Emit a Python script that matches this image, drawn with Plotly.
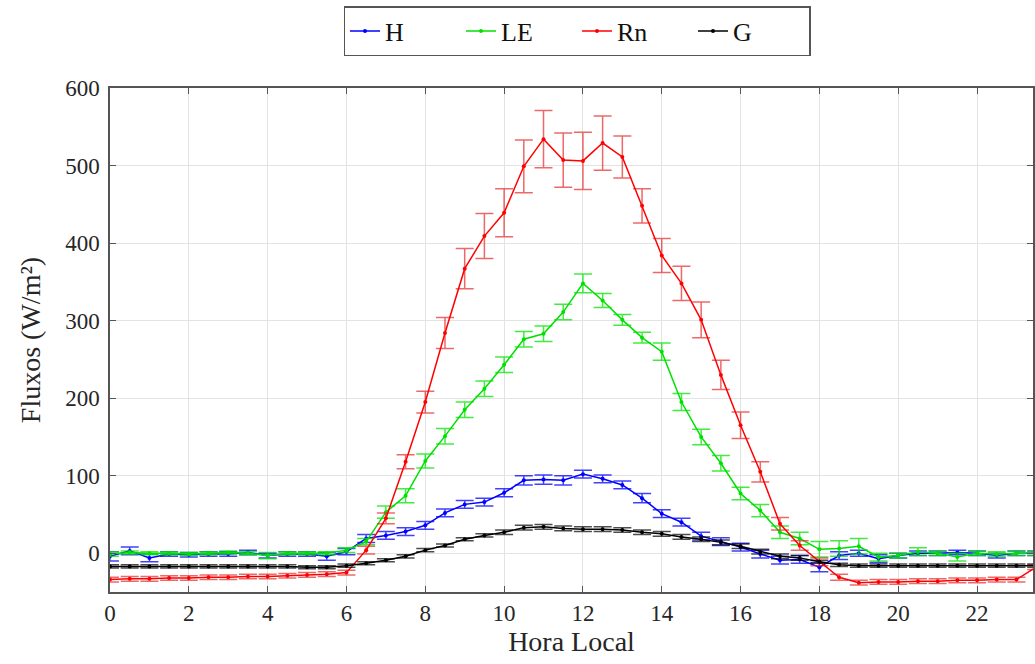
import plotly.graph_objects as go

hours = [i * 0.5 for i in range(48)]

H = [-4, 3, -6, -1, -2, -1, -1, 1, -3, -1, -1, -4,
     2, 19, 23, 28, 36, 52, 63, 66, 78, 94, 95, 94,
     102, 96, 88, 71, 51, 40, 22, 15, 8, -1, -9, -8,
     -18, -3, 0, -7, -3, 0, 0, 1, 0, -3, 0, 0]
H_err = [6, 5, 5, 3, 3, 3, 3, 3, 3, 3, 3, 5,
         4, 5, 5, 5, 5, 5, 5, 5, 5, 6, 6, 6,
         5, 5, 5, 6, 5, 5, 5, 5, 5, 5, 5, 5,
         6, 5, 4, 5, 3, 3, 3, 3, 3, 3, 3, 3]

LE = [-1, 1, 0, 0, -1, 0, 1, 0, -3, 0, 0, 0,
      4, 15, 53, 74, 119, 151, 185, 212, 243, 276, 283, 311,
      348, 326, 301, 278, 260, 195, 150, 116, 77, 55, 27, 19,
      5, 6, 9, -5, -3, 2, 0, -5, 0, -1, 0, 0]
LE_err = [3, 2, 2, 2, 2, 2, 2, 2, 4, 2, 2, 2,
          3, 4, 8, 9, 9, 10, 10, 10, 10, 10, 10, 10,
          12, 9, 7, 7, 11, 11, 10, 10, 8, 8, 8, 8,
          10, 10, 10, 5, 3, 5, 3, 5, 3, 3, 3, 3]

Rn = [-34, -33, -33, -32, -32, -31, -31, -30, -30, -29, -28, -27,
      -25, 4, 45, 118, 195, 284, 367, 409, 439, 499, 534, 507,
      506, 529, 511, 448, 384, 348, 301, 230, 165, 105, 38, 10,
      -11, -31, -38, -37, -37, -36, -36, -35, -35, -34, -34, -18]
Rn_err = [3, 3, 3, 3, 3, 3, 3, 3, 3, 3, 3, 3,
          3, 5, 7, 9, 14, 20, 26, 29, 31, 34, 37, 35,
          37, 35, 27, 22, 22, 22, 23, 19, 17, 13, 8, 6,
          5, 4, 3, 3, 3, 3, 3, 3, 3, 3, 3, 3]

G = [-17, -17, -17, -17, -17, -17, -17, -17, -17, -17, -18, -18,
     -16, -13, -9, -4, 4, 10, 18, 23, 27, 33, 34, 32,
     31, 31, 30, 27, 25, 21, 18, 14, 9, 2, -4, -6,
     -11, -15, -16, -16, -16, -16, -16, -16, -16, -16, -16, -16]
G_err = [2] * 20 + [3] * 16 + [2] * 12

series = [
    ("H", H, H_err, "#0000ff", "rgba(0,0,255,0.75)"),
    ("LE", LE, LE_err, "#00e000", "rgba(0,230,0,0.75)"),
    ("Rn", Rn, Rn_err, "#ff0000", "rgba(230,40,40,0.7)"),
    ("G", G, G_err, "#000000", "rgba(0,0,0,0.7)"),
]

x_ticks = list(range(0, 24, 2))
y_ticks = list(range(0, 700, 100))

fig = go.Figure()
for name, vals, err, col, ecol in series:
    fig.add_trace(go.Scatter(
        x=hours, y=vals, name=name, mode="lines+markers",
        line=dict(color=col, width=1.5),
        marker=dict(color=col, size=4),
        error_y=dict(type="data", array=err, visible=True,
                     color=ecol, thickness=1.5, width=9),
        cliponaxis=True,
    ))

font_family = "Liberation Serif"
fig.update_layout(
    width=1035, height=664,
    margin=dict(l=110, r=0, t=88, b=72),
    paper_bgcolor="white", plot_bgcolor="white",
    font=dict(family=font_family, size=23, color="#262626"),
    showlegend=True,
    legend=dict(
        orientation="h", xref="container", yref="container",
        x=577 / 1035, xanchor="center", y=1 - 6 / 664, yanchor="top",
        bordercolor="#555555", borderwidth=1.5, bgcolor="white",
        font=dict(family=font_family, size=26, color="#111111"),
        entrywidth=71, entrywidthmode="pixels",
    ),
    xaxis=dict(
        range=[0, 23.42], tickvals=x_ticks, ticktext=[str(v) for v in x_ticks],
        showgrid=True, gridcolor="#e3e3e3", gridwidth=1,
        showline=True, linecolor="#555555", linewidth=1.5, mirror="ticks",
        ticks="inside", ticklen=6, tickcolor="#555555",
        zeroline=False,
        title=dict(text="Hora Local", font=dict(size=28), standoff=4),
        tickfont=dict(size=23),
    ),
    yaxis=dict(
        range=[-50, 600], tickvals=y_ticks, ticktext=[str(v) for v in y_ticks],
        showgrid=True, gridcolor="#e3e3e3", gridwidth=1,
        showline=True, linecolor="#555555", linewidth=1.5, mirror="ticks",
        ticks="inside", ticklen=6, tickcolor="#555555",
        zeroline=False,
        title=dict(text="Fluxos (W/m²)", font=dict(size=28), standoff=16),
        tickfont=dict(size=23),
        ticklabelstandoff=4,
    ),
)

fig.write_html("out.html")
